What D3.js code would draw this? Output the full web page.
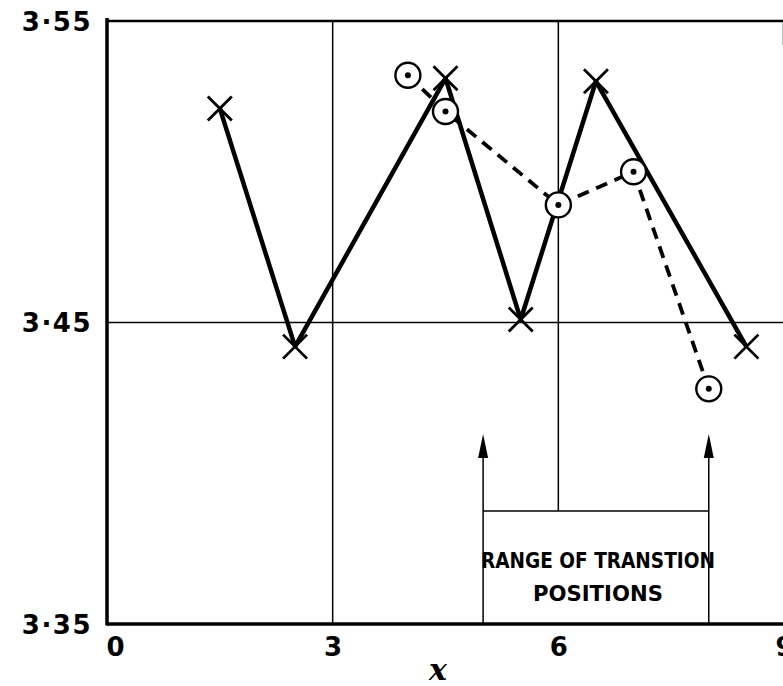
<!DOCTYPE html>
<html>
<head>
<meta charset="utf-8">
<script src="https://cdn.jsdelivr.net/npm/d3@7"></script>
<style>
  body { margin: 0; background: #fff; }
  svg { display: block; }
  .tick text { font-family: "DejaVu Sans", sans-serif; font-weight: bold; fill: #000; }
</style>
</head>
<body>
<div id="chart"></div>
<script>
// Data.
const crossX = [1.5, 2.5, 4.5, 5.5, 6.5, 8.5];
const crossY = [3.521, 3.442, 3.531, 3.451, 3.530, 3.442];
const circleX = [4.0, 4.5, 6.0, 7.0, 8.0];
const circleY = [3.532, 3.520, 3.489, 3.500, 3.428];
const xTicks = [0, 3, 6, 9];
const yTicks = [3.35, 3.45, 3.55];
const rangeLimits = [5, 8];     // transition range arrows
const rangeArrowTop = 3.413;
const rangeBoxTop = 3.3875;
const rangeLabel = ['RANGE OF TRANSTION', 'POSITIONS'];

const W = 783, H = 686;
const margin = { top: 21, right: -1, bottom: 62, left: 107 };
const width = W - margin.left - margin.right;
const height = H - margin.top - margin.bottom;

const x = d3.scaleLinear().domain([0, 9]).range([0, width]);
const y = d3.scaleLinear().domain([3.35, 3.55]).range([height, 0]);

const svg = d3.select('#chart').append('svg')
  .attr('width', W)
  .attr('height', H);

const g = svg.append('g')
  .attr('transform', `translate(${margin.left},${margin.top})`);

// Grid lines.
g.selectAll('.vgrid')
  .data([3])
  .join('line')
  .attr('x1', d => x(d)).attr('x2', d => x(d))
  .attr('y1', 0).attr('y2', height)
  .attr('stroke', '#000').attr('stroke-width', 1.5);

g.append('line')
  .attr('x1', x(6)).attr('x2', x(6))
  .attr('y1', 0).attr('y2', y(rangeBoxTop))
  .attr('stroke', '#000').attr('stroke-width', 1.5);

g.append('line')
  .attr('x1', 0).attr('x2', width)
  .attr('y1', y(3.45)).attr('y2', y(3.45))
  .attr('stroke', '#000').attr('stroke-width', 1.5);

// Frame.
g.append('line').attr('x1', 0).attr('x2', width).attr('y1', 0).attr('y2', 0)
  .attr('stroke', '#000').attr('stroke-width', 2.5);
g.append('line').attr('x1', width).attr('x2', width).attr('y1', 0).attr('y2', 24)
  .attr('stroke', '#000').attr('stroke-width', 2.5);
g.append('line').attr('x1', 0).attr('x2', width).attr('y1', height).attr('y2', height)
  .attr('stroke', '#000').attr('stroke-width', 3.5);
g.append('line').attr('x1', 0).attr('x2', 0).attr('y1', -3).attr('y2', height + 1.5)
  .attr('stroke', '#000').attr('stroke-width', 3.5);

// Axes (labels only).
const fmt = d => d3.format('.2f')(d).replace('.', '·');

const yAxis = g.append('g')
  .call(d3.axisLeft(y).tickValues(yTicks).tickSize(0).tickPadding(15).tickFormat(fmt));
yAxis.select('.domain').remove();
yAxis.selectAll('text')
  .style('font-size', '26px')
  .attr('letter-spacing', '1.5px')
  .attr('dy', '0.36em');

const xAxis = g.append('g')
  .attr('transform', `translate(0,${height})`)
  .call(d3.axisBottom(x).tickValues(xTicks).tickSize(0).tickPadding(14).tickFormat(d3.format('d')));
xAxis.select('.domain').remove();
xAxis.selectAll('text')
  .style('font-size', '26px')
  .attr('dx', d => (d === 0 ? 8 : 0));

svg.append('text')
  .attr('x', margin.left + x(4.4))
  .attr('y', 680)
  .attr('text-anchor', 'middle')
  .style('font-family', '"DejaVu Serif", serif')
  .style('font-style', 'italic')
  .style('font-weight', 'bold')
  .style('font-size', '30px')
  .text('x');

// Transition range box and arrows.
g.append('line')
  .attr('x1', x(rangeLimits[0])).attr('x2', x(rangeLimits[1]))
  .attr('y1', y(rangeBoxTop)).attr('y2', y(rangeBoxTop))
  .attr('stroke', '#000').attr('stroke-width', 1.5);

g.selectAll('.arrow')
  .data(rangeLimits)
  .join('line')
  .attr('x1', d => x(d)).attr('x2', d => x(d))
  .attr('y1', height).attr('y2', y(rangeArrowTop) + 12)
  .attr('stroke', '#000').attr('stroke-width', 1.5);

g.selectAll('.arrowhead')
  .data(rangeLimits)
  .join('path')
  .attr('d', d => {
    const px = x(d), py = y(rangeArrowTop);
    return `M${px},${py} L${px - 5},${py + 24} L${px + 5},${py + 24} Z`;
  })
  .attr('fill', '#000');

g.selectAll('.rangeLabel')
  .data(rangeLabel)
  .join('text')
  .attr('x', (x(rangeLimits[0]) + x(rangeLimits[1])) / 2 + 2)
  .attr('y', (d, i) => y(rangeBoxTop) + 57 + i * 33)
  .attr('text-anchor', 'middle')
  .attr('textLength', (d, i) => (i === 0 ? 234 : 130))
  .attr('lengthAdjust', 'spacingAndGlyphs')
  .style('font-family', '"DejaVu Sans", sans-serif')
  .style('font-weight', 'bold')
  .style('font-size', '21px')
  .text(d => d);

// Solid series with crosses, dashed series with dotted circles.
const crossData = crossX.map((d, i) => [d, crossY[i]]);
const circleData = circleX.map((d, i) => [d, circleY[i]]);

const line = d3.line().x(d => x(d[0])).y(d => y(d[1]));

g.append('path')
  .datum(crossData)
  .attr('d', line)
  .attr('fill', 'none')
  .attr('stroke', '#000')
  .attr('stroke-width', 4.5)
  .attr('stroke-linejoin', 'round');

g.append('path')
  .datum(circleData)
  .attr('d', line)
  .attr('fill', 'none')
  .attr('stroke', '#000')
  .attr('stroke-width', 3.8)
  .attr('stroke-dasharray', '12,8');

const s = 12;
g.selectAll('.cross')
  .data(crossData)
  .join('path')
  .attr('d', d => {
    const px = x(d[0]), py = y(d[1]);
    return `M${px - s},${py - s}L${px + s},${py + s}M${px - s},${py + s}L${px + s},${py - s}`;
  })
  .attr('stroke', '#000')
  .attr('stroke-width', 2.8);

const circles = g.selectAll('.circ')
  .data(circleData)
  .join('g')
  .attr('transform', d => `translate(${x(d[0])},${y(d[1])})`);
circles.append('circle')
  .attr('r', 12.5)
  .attr('fill', '#fff')
  .attr('stroke', '#000')
  .attr('stroke-width', 2.4);
circles.append('circle')
  .attr('r', 3)
  .attr('fill', '#000');
</script>
</body>
</html>
